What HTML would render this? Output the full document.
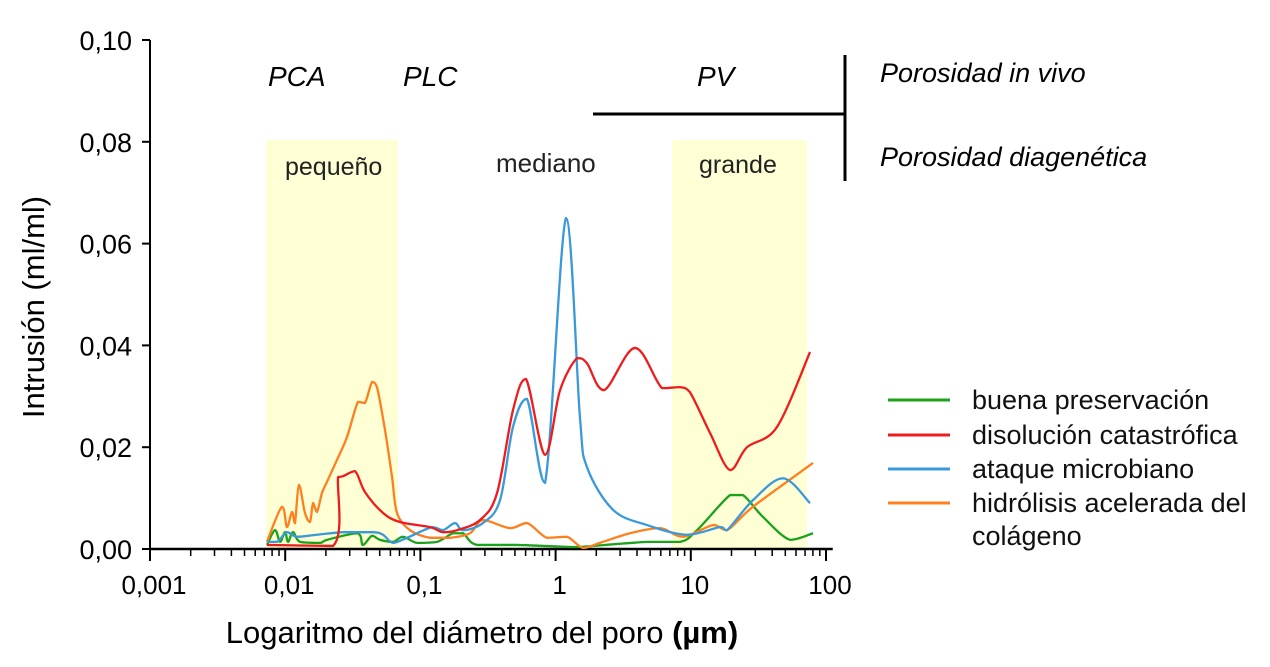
<!DOCTYPE html>
<html><head><meta charset="utf-8"><style>
body{margin:0;background:#fff;}
svg{display:block;font-family:"Liberation Sans",sans-serif;}
</style></head><body>
<svg id="chart" width="1270" height="667">
<rect x="266" y="140" width="132" height="409" fill="#ffffd6"/>
<rect x="672" y="140" width="135" height="409" fill="#ffffd6"/>
<g id="axes"></g>
<g id="series"></g>
<g font-size="28" font-style="italic" fill="#000">
<text x="268" y="86">PCA</text>
<text x="403" y="86">PLC</text>
<text x="697" y="86">PV</text>
<text x="880" y="82" font-size="27">Porosidad in vivo</text>
<text x="880" y="166" font-size="27">Porosidad diagenética</text>
</g>
<g font-size="25" fill="#222">
<text x="285" y="175">pequeño</text>
<text x="496" y="172" font-size="26">mediano</text>
<text x="699" y="173">grande</text>
</g>
<line x1="593" y1="114" x2="846" y2="114" stroke="#000" stroke-width="3"/>
<line x1="845" y1="55" x2="845" y2="181" stroke="#000" stroke-width="3"/>
<text x="44" y="307" font-size="31" transform="rotate(-90 44 307)" text-anchor="middle">Intrusión (ml/ml)</text>
<text x="482" y="643" font-size="31" text-anchor="middle">Logaritmo del diámetro del poro <tspan font-weight="bold">(µm)</tspan></text>
<g id="legend" font-size="27" fill="#111"></g>
</svg>
<script>
const seriesNames=["buena preservación","disolución catastrófica","ataque microbiano","hidrólisis acelerada del colágeno"];
const seriesColors=["#1aa31a","#ee1c1c","#3a9ad9","#ff7f1e"];
const xTickLabels=["0,001","0,01","0,1","1","10","100"];
const yTickValues=[0,0.02,0.04,0.06,0.08,0.10];
const yTickLabels=["0,00","0,02","0,04","0,06","0,08","0,10"];
// log10 of diameter (µm) and intrusion values
const greenLogD=[-2.135,-2.075,-2.038,-2.001,-1.979,-1.942,-1.891,-1.743,-1.691,-1.469,-1.425,-1.358,-1.299,-1.203,-1.129,-1.025,-0.877,-0.759,-0.685,-0.581,-0.286,0.106,0.180,0.676,0.920,1.046,1.290,1.386,1.534,1.734,1.904];
const greenVal=[0.0008,0.0037,0.0014,0.0033,0.0014,0.0033,0.0014,0.0012,0.0018,0.0031,0.0008,0.0026,0.0018,0.0014,0.0024,0.0012,0.0014,0.0031,0.0031,0.0008,0.0008,0.0004,0.0004,0.0014,0.0014,0.0037,0.0106,0.0106,0.0063,0.0018,0.0031];
const redLogD=[-2.135,-1.646,-1.609,-1.572,-1.484,-1.410,-1.277,-1.151,-0.929,-0.833,-0.729,-0.559,-0.433,-0.315,-0.219,-0.078,0.033,0.158,0.232,0.358,0.587,0.787,0.920,0.994,1.142,1.290,1.416,1.638,1.882];
const redVal=[0.0008,0.0006,0.0141,0.0143,0.0153,0.0112,0.0071,0.0053,0.0043,0.0033,0.0037,0.0057,0.0110,0.0273,0.0334,0.0185,0.0312,0.0375,0.0365,0.0312,0.0395,0.0316,0.0318,0.0308,0.0228,0.0155,0.0200,0.0240,0.0387];
const blueLogD=[-2.135,-2.061,-1.987,-1.913,-1.765,-1.572,-1.351,-1.277,-1.203,-1.099,-0.914,-0.833,-0.744,-0.685,-0.537,-0.411,-0.315,-0.212,-0.078,0.077,0.180,0.232,0.425,0.676,0.972,1.216,1.268,1.460,1.682,1.882];
const blueVal=[0.0014,0.0014,0.0033,0.0024,0.0028,0.0033,0.0033,0.0028,0.0012,0.0022,0.0043,0.0037,0.0051,0.0037,0.0051,0.0096,0.0240,0.0295,0.0130,0.0650,0.0259,0.0161,0.0077,0.0047,0.0028,0.0043,0.0037,0.0096,0.0139,0.0090];
const orangeLogD=[-2.135,-2.024,-1.987,-1.950,-1.928,-1.898,-1.854,-1.817,-1.794,-1.765,-1.728,-1.691,-1.617,-1.543,-1.462,-1.410,-1.358,-1.321,-1.262,-1.210,-1.173,-1.077,-0.929,-0.781,-0.633,-0.537,-0.337,-0.212,-0.064,0.084,0.203,0.328,0.550,0.772,0.942,1.164,1.268,1.460,1.904];
const orangeVal=[0.0014,0.0083,0.0043,0.0073,0.0051,0.0126,0.0071,0.0053,0.0090,0.0073,0.0110,0.0132,0.0175,0.0220,0.0289,0.0287,0.0328,0.0318,0.0234,0.0142,0.0071,0.0037,0.0022,0.0022,0.0031,0.0057,0.0041,0.0051,0.0022,0.0024,0.0002,0.0012,0.0031,0.0041,0.0024,0.0047,0.0037,0.0083,0.0169];
const NS="http://www.w3.org/2000/svg";
const X0=150,DEC=135.2,Y0=549,YS=5090;
function xScale(e){return X0+(e+3)*DEC;}
function yScale(v){return Y0-v*YS;}
function mk(tag,attrs,parent){const el=document.createElementNS(NS,tag);for(const k in attrs)el.setAttribute(k,attrs[k]);parent.appendChild(el);return el;}
const axes=document.getElementById('axes');
let a=mk('line',{x1:X0,y1:40,x2:X0,y2:Y0,stroke:'#000','stroke-width':2},axes);


a=mk('line',{x1:X0,y1:Y0,x2:xScale(2.05),y2:Y0,stroke:'#000','stroke-width':2.5},axes);


yTickValues.forEach((v,i)=>{
 const y=yScale(v);
 mk('line',{x1:X0-8,y1:y,x2:X0,y2:y,stroke:'#000','stroke-width':2},axes);
 const t=mk('text',{x:X0-18,y:y+10,'text-anchor':'end','font-size':27},axes);
 t.textContent=yTickLabels[i];
 
 
});
xTickLabels.forEach((lab,i)=>{
 const e=i-3,x=xScale(e);
 mk('line',{x1:x,y1:Y0,x2:x,y2:Y0+12,stroke:'#000','stroke-width':2},axes);
 const t=mk('text',{x:x+4,y:Y0+45,'text-anchor':'middle','font-size':26},axes);
 t.textContent=lab;
 
 
 if(i<5)for(let m=2;m<10;m++){const xm=xScale(e+Math.log10(m));mk('line',{x1:xm,y1:Y0,x2:xm,y2:Y0+7,stroke:'#000','stroke-width':1.5},axes);}
});
function clamp(v,a,b){const lo=Math.min(a,b),hi=Math.max(a,b);return Math.max(lo,Math.min(hi,v));}
function path(xs,ys){
 const p=xs.map((e,i)=>[xScale(e),yScale(ys[i])]);
 let d=`M${p[0][0]},${p[0][1]}`;
 for(let i=0;i<p.length-1;i++){
  const p0=p[i-1]||p[i],p1=p[i],p2=p[i+1],p3=p[i+2]||p2;
  const c1=[p1[0]+(p2[0]-p0[0])/6,clamp(p1[1]+(p2[1]-p0[1])/6,p1[1],p2[1])];
  const c2=[p2[0]-(p3[0]-p1[0])/6,clamp(p2[1]-(p3[1]-p1[1])/6,p1[1],p2[1])];
  d+=`C${c1[0]},${c1[1]} ${c2[0]},${c2[1]} ${p2[0]},${p2[1]}`;
 }
 return d;
}
const ser=document.getElementById('series');
const data=[[greenLogD,greenVal],[redLogD,redVal],[blueLogD,blueVal],[orangeLogD,orangeVal]];
const order=[0,3,2,1];
const lineNames=['green-line','red-line','blue-line','orange-line'];
order.forEach(i=>{
 const p=mk('path',{d:path(data[i][0],data[i][1]),fill:'none',stroke:seriesColors[i],'stroke-width':2.3},ser);
 
 
});
const leg=document.getElementById('legend');
const legY=[400,435,469,503];
seriesNames.forEach((n,i)=>{
 const l=mk('line',{x1:888,y1:legY[i],x2:950,y2:legY[i],stroke:seriesColors[i],'stroke-width':3},leg);
 
 
 const t=mk('text',{x:972,y:legY[i]+9},leg);
 
 
 if(i===3){t.textContent='hidrólisis acelerada del';const t2=mk('text',{x:972,y:legY[i]+42},leg);t2.textContent='colágeno';}
 else t.textContent=n;
});
</script>
</body></html>
